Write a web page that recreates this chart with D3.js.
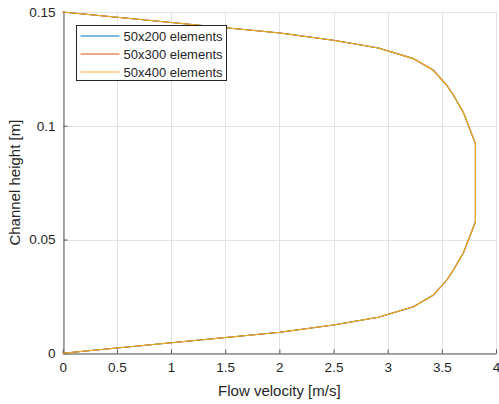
<!DOCTYPE html>
<html>
<head>
<meta charset="utf-8">
<script src="https://cdn.jsdelivr.net/npm/d3@7"></script>
<style>
  body { margin: 0; background: #fff; }
  text { font-family: "Liberation Sans", Arial, sans-serif; fill: #262626; }
</style>
</head>
<body>
<div id="chart"></div>
<script>
const width = 499;
const height = 404;

// channel height [m] at each node (same grid read for all three meshes)
const channelHeight = [0, 0.00923, 0.01244, 0.01582, 0.02048, 0.02562, 0.0322, 0.0366, 0.0442, 0.0578,
    0.0922, 0.1058, 0.1134, 0.1178, 0.12438, 0.12952, 0.13418, 0.13756, 0.14077, 0.15];
const velocity200 = [0, 2.006, 2.499, 2.914, 3.237, 3.422, 3.546, 3.607, 3.699, 3.81,
    3.81, 3.699, 3.607, 3.546, 3.422, 3.237, 2.914, 2.499, 2.006, 0];
const velocity300 = [0, 2.006, 2.499, 2.914, 3.237, 3.422, 3.546, 3.607, 3.699, 3.81,
    3.81, 3.699, 3.607, 3.546, 3.422, 3.237, 2.914, 2.499, 2.006, 0];
const velocity400 = [0, 2.006, 2.499, 2.914, 3.237, 3.422, 3.546, 3.607, 3.699, 3.81,
    3.81, 3.699, 3.607, 3.546, 3.422, 3.237, 2.914, 2.499, 2.006, 0];

const seriesNames = ["50x200 elements", "50x300 elements", "50x400 elements"];
const seriesColors = ["#0072BD", "#D95319", "#EDB120"];
const xTicks = [0, 0.5, 1, 1.5, 2, 2.5, 3, 3.5, 4];
const yTicks = [0, 0.05, 0.1, 0.15];

const series = [velocity200, velocity300, velocity400].map((v, i) => ({
    name: seriesNames[i],
    color: seriesColors[i],
    points: v.map((u, j) => [u, channelHeight[j]])
}));

const margin = {left: 62.7, right: 3, top: 12, bottom: 50.7};

const svg = d3.select("#chart").append("svg")
    .attr("width", width)
    .attr("height", height);

const x = d3.scaleLinear().domain([0, 4]).range([margin.left, width - margin.right]);
const y = d3.scaleLinear().domain([0, 0.15]).range([height - margin.bottom, margin.top]);

// grid
const grid = svg.append("g").attr("stroke", "#e3e3e3").attr("stroke-width", 1);
grid.selectAll(".gx").data(xTicks).enter().append("line")
    .attr("x1", d => Math.round(x(d)) + 0.5).attr("x2", d => Math.round(x(d)) + 0.5)
    .attr("y1", y(0)).attr("y2", y(0.15));
grid.selectAll(".gy").data(yTicks).enter().append("line")
    .attr("y1", d => Math.round(y(d)) + 0.5).attr("y2", d => Math.round(y(d)) + 0.5)
    .attr("x1", x(0)).attr("x2", x(4));

// axes
const xAxis = svg.append("g")
    .attr("transform", `translate(0,${Math.round(y(0)) + 0.5})`)
    .call(d3.axisBottom(x).tickValues(xTicks).tickSizeInner(-4).tickSizeOuter(0).tickPadding(9)
        .tickFormat(d3.format("~g")));
const yAxis = svg.append("g")
    .attr("transform", `translate(${Math.round(x(0)) + 0.5},0)`)
    .call(d3.axisLeft(y).tickValues(yTicks).tickSizeInner(-4).tickSizeOuter(0).tickPadding(8)
        .tickFormat(d3.format("~g")));

[xAxis, yAxis].forEach(a => {
    a.select(".domain").attr("stroke", "#555");
    a.selectAll(".tick line").attr("stroke", "#555");
    a.selectAll("text").attr("font-size", 13.5).attr("fill", "#262626")
        .attr("font-family", "Liberation Sans, Arial, sans-serif");
});

// lines
const line = d3.line().x(d => x(d[0])).y(d => y(d[1]));
svg.append("g").selectAll("path").data(series).enter().append("path")
    .attr("d", d => line(d.points))
    .attr("fill", "none")
    .attr("stroke", d => d.color)
    .attr("stroke-width", 1.1);

// axis labels
svg.append("text")
    .attr("x", (x(0) + x(4)) / 2)
    .attr("y", 396)
    .attr("text-anchor", "middle")
    .attr("font-size", 15)
    .text("Flow velocity [m/s]");

svg.append("text")
    .attr("transform", `translate(20,${(y(0) + y(0.15)) / 2}) rotate(-90)`)
    .attr("text-anchor", "middle")
    .attr("font-size", 15)
    .text("Channel height [m]");

// legend
const legend = svg.append("g").attr("transform", "translate(76.5,25.5)");
legend.append("rect")
    .attr("width", 150).attr("height", 55)
    .attr("fill", "#fff").attr("stroke", "#262626").attr("stroke-width", 1);
const item = legend.selectAll(".item").data(series).enter().append("g")
    .attr("transform", (d, i) => `translate(0,${10.5 + i * 18})`);
item.append("line")
    .attr("x1", 4).attr("x2", 43)
    .attr("stroke", d => d.color).attr("stroke-width", 1.1);
item.append("text")
    .attr("x", 47).attr("y", 4.5)
    .attr("font-size", 13)
    .text(d => d.name);
</script>
</body>
</html>
